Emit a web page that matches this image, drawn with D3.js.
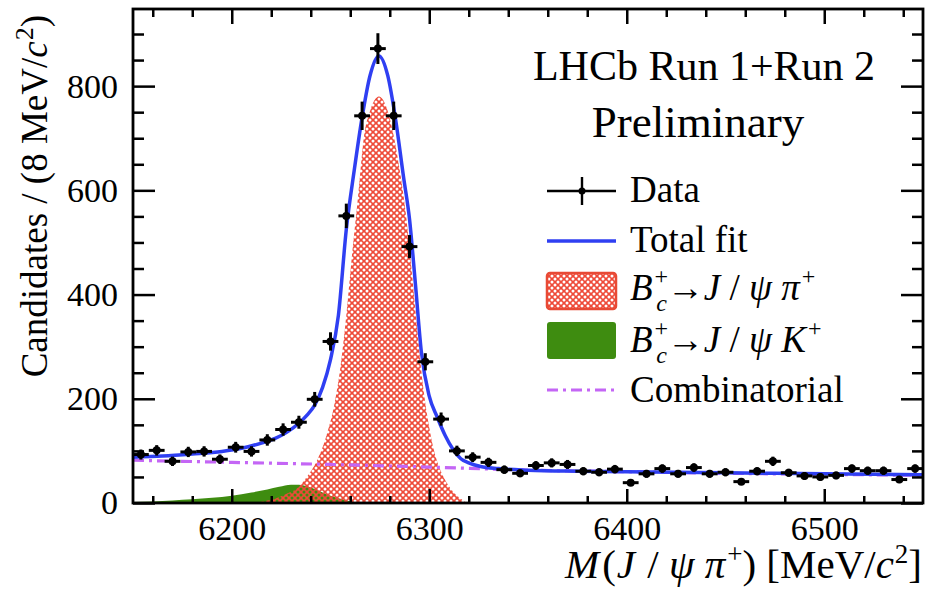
<!DOCTYPE html>
<html>
<head>
<meta charset="utf-8">
<script src="https://cdn.jsdelivr.net/npm/d3@7/dist/d3.min.js"></script>
<style>
  body { margin: 0; background: #fff; }
  svg { display: block; font-family: 'Liberation Serif', 'Times New Roman', serif; }
</style>
</head>
<body>
<div id="graf"></div>
<script>
// bin centres (8 MeV bins) and candidates per bin
const binCenters = [6154, 6162, 6170, 6178, 6186, 6194, 6202, 6210, 6218, 6226,
  6234, 6242, 6250, 6258, 6266, 6274, 6282, 6290, 6298, 6306,
  6314, 6322, 6330, 6338, 6346, 6354, 6362, 6370, 6378, 6386,
  6394, 6402, 6410, 6418, 6426, 6434, 6442, 6450, 6458, 6466,
  6474, 6482, 6490, 6498, 6506, 6514, 6522, 6530, 6538, 6546]
const counts = [93, 101, 80, 98, 99, 84, 107, 99, 121, 141,
  155, 199, 310, 551, 743, 872, 743, 492, 271, 161,
  100, 88, 78, 64, 57, 72, 77, 74, 61, 59,
  65, 39, 56, 66, 56, 68, 56, 59, 41, 61,
  80, 58, 52, 50, 53, 66, 62, 62, 45, 66]

// total fit
const fitMass = [6150, 6165, 6180, 6195, 6205, 6215, 6222, 6228, 6234, 6238,
  6242, 6246, 6250, 6254, 6258, 6262, 6266, 6270, 6274.5, 6279,
  6283, 6287, 6290, 6293, 6296, 6300, 6304, 6308, 6312, 6316,
  6320, 6326, 6335, 6350, 6375, 6400, 6450, 6500, 6550]
const fitValues = [88, 90, 94, 99, 105, 115, 124, 136, 153, 168,
  188, 222, 275, 360, 525, 638, 740, 820, 858, 820,
  735, 625, 545, 420, 290, 205, 165, 130, 103, 85,
  77, 70, 66, 63, 61, 60, 58, 56, 54]

// Bc -> J/psi pi signal
const sigMass = [6210, 6216, 6222, 6228, 6233, 6238, 6243, 6248, 6252, 6255,
  6258, 6261, 6264, 6267, 6270, 6274.5, 6279, 6282, 6285, 6288,
  6291, 6294, 6297, 6300, 6303, 6306, 6309, 6312, 6315, 6319]
const sigValues = [0, 3, 8, 18, 28, 50, 80, 130, 190, 260,
  360, 480, 590, 705, 752, 780, 752, 705, 640, 560,
  450, 330, 220, 145, 92, 60, 38, 22, 11, 0]

// Bc -> J/psi K
const kMass = [6150, 6160, 6170, 6180, 6190, 6200, 6210, 6218, 6224, 6230,
  6234, 6238, 6242, 6246, 6250, 6254, 6258, 6262, 6266]
const kValues = [2, 3, 5, 7, 10, 14, 20, 26, 31, 35,
  35, 32, 27, 20, 14, 9, 5, 2, 0]

// combinatorial
const combMass = [6150, 6200, 6250, 6300, 6350, 6400, 6450, 6500, 6550]
const combValues = [82, 78, 74, 69, 63, 60, 57, 55, 53]

const xMajor = [6200, 6300, 6400, 6500]
const xMinor = [6160, 6180, 6220, 6240, 6260, 6280, 6320, 6340, 6360, 6380,
  6420, 6440, 6460, 6480, 6520, 6540]
const yMajor = [0, 200, 400, 600, 800]
const yMinor = [50, 100, 150, 250, 300, 350, 450, 500, 550, 650, 700, 750, 850, 900]

const anchoTotal = 926
const altoTotal = 591
const margin = { top: 9, bottom: 88, left: 133, right: 3 }
const ancho = anchoTotal - margin.left - margin.right
const alto = altoTotal - margin.top - margin.bottom

const blue = '#2f3ff2'
const magenta = '#c466f5'
const green = '#3e8c10'
const red = '#ee4a38'

const svg = d3.select('#graf')
  .append('svg')
  .attr('width', anchoTotal)
  .attr('height', altoTotal)

// red cross-hatch with see-through holes
const defs = svg.append('defs')
const P = 6
const r = 1.5
const hole = (cx, cy) => `M${cx - r},${cy}a${r},${r} 0 1,0 ${2 * r},0a${r},${r} 0 1,0 ${-2 * r},0Z`
defs.append('pattern')
  .attr('id', 'hatch')
  .attr('patternUnits', 'userSpaceOnUse')
  .attr('width', P)
  .attr('height', P)
  .append('path')
  .attr('fill-rule', 'evenodd')
  .attr('fill', red)
  .attr('d', `M0,0H${P}V${P}H0Z` + hole(0, 0) + hole(P, 0) + hole(0, P) + hole(P, P) + hole(P / 2, P / 2))

defs.append('clipPath').attr('id', 'clip')
  .append('rect').attr('width', ancho).attr('height', alto)

const g = svg.append('g')
  .attr('transform', `translate(${margin.left}, ${margin.top})`)

const x = d3.scaleLinear().domain([6150, 6550]).range([0, ancho])
const y = d3.scaleLinear().domain([0, 948]).range([alto, 0])

const plot = g.append('g').attr('clip-path', 'url(#clip)')

const zip = (ms, vs) => ms.map((m, i) => [m, vs[i]])

const area = d3.area()
  .x(d => x(d[0]))
  .y0(y(0))
  .y1(d => y(d[1]))
  .curve(d3.curveMonotoneX)

const line = d3.line()
  .x(d => x(d[0]))
  .y(d => y(d[1]))
  .curve(d3.curveMonotoneX)

plot.append('path')
  .attr('d', area(zip(kMass, kValues)))
  .attr('fill', green)

plot.append('path')
  .attr('d', area(zip(sigMass, sigValues)))
  .attr('fill', 'url(#hatch)')

plot.append('path')
  .attr('d', line(zip(combMass, combValues)))
  .attr('fill', 'none')
  .attr('stroke', magenta)
  .attr('stroke-width', 3.2)
  .attr('stroke-dasharray', '11 5 3 5')

plot.append('path')
  .attr('d', line(zip(fitMass, fitValues)))
  .attr('fill', 'none')
  .attr('stroke', blue)
  .attr('stroke-width', 3.5)

// data points with errors
const pts = plot.selectAll('g.pt')
  .data(zip(binCenters, counts))
  .join('g')
  .attr('class', 'pt')
  .attr('stroke', '#000')
  .attr('stroke-width', 3)

pts.append('line')
  .attr('x1', d => x(d[0] - 4))
  .attr('x2', d => x(d[0] + 4))
  .attr('y1', d => y(d[1]))
  .attr('y2', d => y(d[1]))
pts.append('line')
  .attr('x1', d => x(d[0]))
  .attr('x2', d => x(d[0]))
  .attr('y1', d => y(d[1] - Math.sqrt(d[1])))
  .attr('y2', d => y(d[1] + Math.sqrt(d[1])))
pts.append('circle')
  .attr('cx', d => x(d[0]))
  .attr('cy', d => y(d[1]))
  .attr('r', 4)
  .attr('fill', '#000')
  .attr('stroke', 'none')

// ticks on all four sides
function ticks(axis, vals, size, transform) {
  const a = g.append('g')
    .attr('transform', transform)
    .call(axis.tickValues(vals).tickSize(size).tickFormat(''))
  a.select('.domain').remove()
  a.selectAll('line').attr('stroke', '#000').attr('stroke-width', 2.5)
}
ticks(d3.axisBottom(x), xMajor, -14, `translate(0, ${alto})`)
ticks(d3.axisBottom(x), xMinor, -7, `translate(0, ${alto})`)
ticks(d3.axisTop(x), xMajor, -15, 'translate(0, 0)')
ticks(d3.axisTop(x), xMinor, -8, 'translate(0, 0)')
ticks(d3.axisLeft(y), yMajor, -22, 'translate(0, 0)')
ticks(d3.axisLeft(y), yMinor, -11, 'translate(0, 0)')
ticks(d3.axisRight(y), yMajor, -22, `translate(${ancho}, 0)`)
ticks(d3.axisRight(y), yMinor, -11, `translate(${ancho}, 0)`)

g.append('rect')
  .attr('width', ancho)
  .attr('height', alto)
  .attr('fill', 'none')
  .attr('stroke', '#000')
  .attr('stroke-width', 2.8)

const xLabels = g.append('g')
  .attr('transform', `translate(0, ${alto})`)
  .call(d3.axisBottom(x).tickValues(xMajor).tickSize(0).tickPadding(13).tickFormat(d3.format('d')))
xLabels.select('.domain').remove()
xLabels.selectAll('text')
  .attr('font-size', 34)
  .attr('fill', '#000')
  .attr('font-family', "'Liberation Serif', serif")

const yLabels = g.append('g')
  .call(d3.axisLeft(y).tickValues(yMajor).tickSize(0).tickPadding(15))
yLabels.select('.domain').remove()
yLabels.selectAll('text')
  .attr('font-size', 34)
  .attr('fill', '#000')
  .attr('font-family', "'Liberation Serif', serif")

// axis titles
const xTitle = svg.append('text')
  .attr('x', 922)
  .attr('y', 578)
  .attr('text-anchor', 'end')
  .attr('font-size', 41)
xTitle.append('tspan').attr('font-style', 'italic').text('M')
xTitle.append('tspan').attr('dx', 3).text('(')
xTitle.append('tspan').attr('font-style', 'italic').attr('dx', 1).text('J')
xTitle.append('tspan').attr('dx', 2).text(' / ')
xTitle.append('tspan').attr('font-style', 'italic').text('ψ π')
xTitle.append('tspan').attr('font-size', 27).attr('dx', 2).attr('dy', -15).text('+')
xTitle.append('tspan').attr('dy', 15).text(') [MeV/')
xTitle.append('tspan').attr('font-style', 'italic').text('c')
xTitle.append('tspan').attr('font-size', 27).attr('dx', 1).attr('dy', -15).text('2')
xTitle.append('tspan').attr('dy', 15).text(']')

const yTitle = svg.append('text')
  .attr('transform', 'translate(47, 15) rotate(-90)')
  .attr('text-anchor', 'end')
  .attr('font-size', 37)
yTitle.append('tspan').text('Candidates / (8 MeV/')
yTitle.append('tspan').attr('font-style', 'italic').text('c')
yTitle.append('tspan').attr('font-size', 26).attr('dx', 1).attr('dy', -14).text('2')
yTitle.append('tspan').attr('dy', 14).text(')')

// LHCb label
svg.append('text')
  .attr('x', 704).attr('y', 80)
  .attr('text-anchor', 'middle')
  .attr('font-size', 42)
  .text('LHCb Run 1+Run 2')
svg.append('text')
  .attr('x', 698).attr('y', 137)
  .attr('text-anchor', 'middle')
  .attr('font-size', 45)
  .text('Preliminary')

// legend
const leg = svg.append('g')
const lx0 = 547
const lx1 = 616
const tx = 630

leg.append('line').attr('x1', lx0).attr('x2', lx1).attr('y1', 191).attr('y2', 191)
  .attr('stroke', '#000').attr('stroke-width', 2.4)
leg.append('line').attr('x1', 582).attr('x2', 582).attr('y1', 177).attr('y2', 205)
  .attr('stroke', '#000').attr('stroke-width', 2.4)
leg.append('circle').attr('cx', 582).attr('cy', 191).attr('r', 3.5).attr('fill', '#000')
leg.append('text').attr('x', tx).attr('y', 202).attr('font-size', 37).text('Data')

leg.append('line').attr('x1', lx0).attr('x2', lx1).attr('y1', 241).attr('y2', 241)
  .attr('stroke', blue).attr('stroke-width', 3.5)
leg.append('text').attr('x', tx).attr('y', 252).attr('font-size', 37).text('Total fit')

leg.append('rect').attr('x', lx0).attr('y', 273).attr('width', lx1 - lx0).attr('height', 36)
  .attr('rx', 3).attr('fill', 'url(#hatch)').attr('stroke', '#e84a35').attr('stroke-width', 2.5)
leg.append('rect').attr('x', lx0).attr('y', 322).attr('width', lx1 - lx0).attr('height', 37)
  .attr('rx', 3).attr('fill', green)

function decay(yb, last) {
  const t = leg.append('text').attr('x', tx).attr('y', yb).attr('font-size', 37)
  t.append('tspan').attr('font-style', 'italic').text('B')
  t.append('tspan').attr('font-size', 24).attr('dx', 2).attr('dy', -16).text('+')
  t.append('tspan').attr('font-size', 24).attr('font-style', 'italic').attr('dx', -12).attr('dy', 27).text('c')
  t.append('tspan').attr('dy', -11).text('→')
  t.append('tspan').attr('font-style', 'italic').text('J')
  t.append('tspan').text(' / ')
  t.append('tspan').attr('font-style', 'italic').text('ψ ' + last)
  t.append('tspan').attr('font-size', 24).attr('dx', 2).attr('dy', -16).text('+')
}
decay(300, 'π')
decay(352, 'K')

leg.append('line').attr('x1', lx0).attr('x2', lx1).attr('y1', 390).attr('y2', 390)
  .attr('stroke', magenta).attr('stroke-width', 3.2).attr('stroke-dasharray', '11 5 3 5')
leg.append('text').attr('x', tx).attr('y', 402).attr('font-size', 37).text('Combinatorial')
</script>
</body>
</html>
